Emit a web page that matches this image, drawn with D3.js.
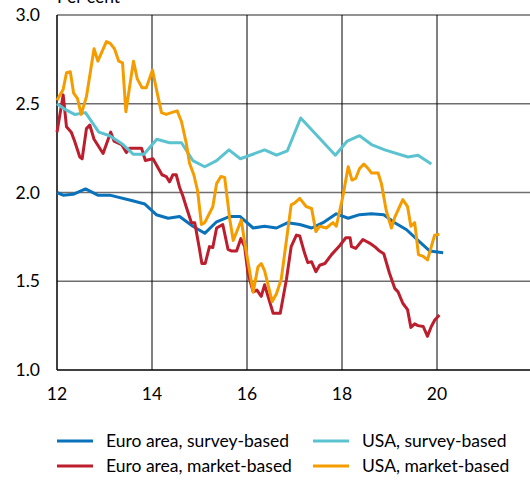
<!DOCTYPE html>
<html>
<head>
<meta charset="utf-8">
<script src="https://cdn.jsdelivr.net/npm/d3@7"></script>
<style>
  body { margin: 0; background: #fff; }
  svg { display: block; font-family: Lato, "Noto Sans", sans-serif; }
</style>
</head>
<body>
<div id="chart"></div>
<script>
// tick labels
var xTicks = [12, 14, 16, 18, 20];
var yTicks = [1.0, 1.5, 2.0, 2.5, 3.0];

// series: [year (2-digit, fractional), per cent]
var euroSurvey = [
  [12.00, 2.00], [12.13, 1.985], [12.34, 1.99], [12.60, 2.02], [12.86, 1.985],
  [13.11, 1.985], [13.57, 1.955], [13.85, 1.935], [14.09, 1.875], [14.34, 1.855],
  [14.58, 1.865], [14.86, 1.81], [15.11, 1.77], [15.36, 1.835], [15.64, 1.865],
  [15.85, 1.865], [16.13, 1.80], [16.37, 1.81], [16.62, 1.80], [16.86, 1.83],
  [17.11, 1.82], [17.36, 1.80], [17.60, 1.83], [17.88, 1.88], [18.13, 1.855],
  [18.37, 1.875], [18.62, 1.88], [18.88, 1.875], [19.11, 1.83], [19.36, 1.79],
  [19.60, 1.73], [19.85, 1.67], [20.13, 1.66]
];
var euroMarket = [
  [12.00, 2.34], [12.13, 2.55], [12.20, 2.37], [12.30, 2.34], [12.37, 2.29],
  [12.48, 2.20], [12.53, 2.19], [12.62, 2.36], [12.69, 2.38], [12.78, 2.30],
  [12.97, 2.22], [13.13, 2.34], [13.20, 2.29], [13.36, 2.27], [13.46, 2.225],
  [13.53, 2.25], [13.78, 2.25], [13.86, 2.18], [14.02, 2.19], [14.21, 2.10],
  [14.30, 2.09], [14.37, 2.06], [14.44, 2.10], [14.51, 2.10], [14.58, 2.03],
  [14.65, 1.98], [14.72, 1.92], [14.83, 1.83], [14.90, 1.83], [15.00, 1.68],
  [15.05, 1.60], [15.12, 1.60], [15.21, 1.695], [15.28, 1.69], [15.36, 1.80],
  [15.49, 1.82], [15.60, 1.68], [15.68, 1.67], [15.78, 1.67], [15.87, 1.74],
  [15.95, 1.695], [16.02, 1.545], [16.13, 1.44], [16.21, 1.45], [16.30, 1.415],
  [16.37, 1.48], [16.55, 1.32], [16.70, 1.32], [16.83, 1.51], [16.93, 1.695],
  [17.04, 1.76], [17.11, 1.755], [17.21, 1.66], [17.28, 1.605], [17.36, 1.61],
  [17.45, 1.554], [17.53, 1.59], [17.64, 1.60], [17.78, 1.65], [17.95, 1.70],
  [18.08, 1.745], [18.17, 1.745], [18.20, 1.695], [18.29, 1.685], [18.44, 1.735],
  [18.58, 1.715], [18.69, 1.695], [18.79, 1.67], [18.88, 1.655], [19.00, 1.545],
  [19.11, 1.46], [19.18, 1.44], [19.28, 1.376], [19.38, 1.34], [19.45, 1.24],
  [19.53, 1.26], [19.60, 1.25], [19.71, 1.245], [19.80, 1.19], [19.88, 1.245],
  [19.95, 1.28], [20.05, 1.31]
];
var usaSurvey = [
  [12.00, 2.50], [12.16, 2.47], [12.37, 2.44], [12.60, 2.45], [12.88, 2.34],
  [13.11, 2.32], [13.39, 2.27], [13.61, 2.215], [13.83, 2.215], [14.10, 2.30],
  [14.37, 2.28], [14.62, 2.28], [14.86, 2.18], [15.11, 2.145], [15.36, 2.18],
  [15.62, 2.24], [15.86, 2.19], [16.37, 2.24], [16.62, 2.21], [16.85, 2.235],
  [17.13, 2.42], [17.86, 2.21], [18.11, 2.29], [18.37, 2.32], [18.62, 2.27],
  [18.90, 2.24], [19.39, 2.20], [19.60, 2.21], [19.88, 2.16]
];
var usaMarket = [
  [12.00, 2.52], [12.13, 2.58], [12.20, 2.675], [12.28, 2.68], [12.35, 2.56],
  [12.43, 2.53], [12.51, 2.44], [12.62, 2.54], [12.78, 2.81], [12.86, 2.74],
  [13.04, 2.85], [13.12, 2.84], [13.21, 2.81], [13.30, 2.74], [13.38, 2.73],
  [13.45, 2.455], [13.61, 2.74], [13.69, 2.64], [13.79, 2.59], [13.88, 2.59],
  [14.01, 2.69], [14.11, 2.56], [14.20, 2.45], [14.30, 2.44], [14.41, 2.45],
  [14.53, 2.46], [14.62, 2.40], [14.72, 2.28], [14.79, 2.165], [14.88, 2.10],
  [14.96, 2.01], [15.04, 1.82], [15.11, 1.83], [15.28, 1.92], [15.36, 2.05],
  [15.45, 2.09], [15.53, 2.085], [15.64, 1.845], [15.71, 1.73], [15.80, 1.79],
  [15.88, 1.845], [15.95, 1.72], [16.13, 1.44], [16.23, 1.58], [16.30, 1.60],
  [16.37, 1.56], [16.53, 1.385], [16.62, 1.43], [16.72, 1.51], [16.93, 1.93],
  [17.00, 1.94], [17.11, 1.967], [17.25, 1.92], [17.36, 1.91], [17.45, 1.78],
  [17.53, 1.81], [17.67, 1.80], [17.81, 1.83], [17.88, 1.81], [18.02, 1.98],
  [18.13, 2.145], [18.21, 2.07], [18.29, 2.08], [18.37, 2.135], [18.46, 2.16],
  [18.55, 2.135], [18.62, 2.11], [18.76, 2.11], [18.83, 2.05], [18.93, 1.90],
  [19.04, 1.80], [19.11, 1.86], [19.28, 1.96], [19.38, 1.92], [19.45, 1.81],
  [19.53, 1.83], [19.61, 1.65], [19.71, 1.64], [19.80, 1.62], [19.95, 1.76],
  [20.05, 1.765]
];

var seriesNames = ["Euro area, survey-based", "Euro area, market-based",
                   "USA, survey-based", "USA, market-based"];
var seriesColors = ["#0a72ba", "#bd1e2d", "#5bc3d0", "#f59d00"];
var seriesData = [euroSurvey, euroMarket, usaSurvey, usaMarket];

var width = 530, height = 481;
var margin = {top: 15, right: -2, bottom: 111, left: 57};
var fontSize = 17.5;

var svg = d3.select("#chart").append("svg")
  .attr("width", width)
  .attr("height", height);

var x = d3.scaleLinear().domain([12, 22]).range([margin.left, width - margin.right]);
var y = d3.scaleLinear().domain([1, 3]).range([height - margin.bottom, margin.top]);

// horizontal grid
svg.append("g")
  .selectAll("line")
  .data(yTicks.slice(1))
  .enter().append("line")
    .attr("x1", x(12)).attr("x2", width)
    .attr("y1", function(d) { return y(d); })
    .attr("y2", function(d) { return y(d); })
    .attr("stroke", "#6e6e6e")
    .attr("stroke-width", 1.5);

// vertical grid
svg.append("g")
  .selectAll("line")
  .data(xTicks.slice(1))
  .enter().append("line")
    .attr("x1", function(d) { return x(d); })
    .attr("x2", function(d) { return x(d); })
    .attr("y1", y(3)).attr("y2", y(1))
    .attr("stroke", "#000")
    .attr("stroke-width", 1);

// axes lines
svg.append("line")
  .attr("x1", x(12)).attr("x2", x(12))
  .attr("y1", y(3)).attr("y2", y(1))
  .attr("stroke", "#000").attr("stroke-width", 1.5);
svg.append("line")
  .attr("x1", x(12)).attr("x2", width)
  .attr("y1", y(1)).attr("y2", y(1))
  .attr("stroke", "#000").attr("stroke-width", 1.5);

// tick labels
svg.append("g")
  .selectAll("text")
  .data(yTicks)
  .enter().append("text")
    .attr("x", 40)
    .attr("y", function(d) { return y(d); })
    .attr("dy", "0.35em")
    .attr("text-anchor", "end")
    .attr("font-size", fontSize)
    .attr("fill", "#000")
    .text(function(d) { return d3.format(".1f")(d); });

svg.append("g")
  .selectAll("text")
  .data(xTicks)
  .enter().append("text")
    .attr("x", function(d) { return x(d); })
    .attr("y", y(1) + 30)
    .attr("text-anchor", "middle")
    .attr("font-size", fontSize)
    .attr("fill", "#000")
    .text(function(d) { return d; });

// unit label, partly above the top edge as in the original
svg.append("text")
  .attr("x", x(12))
  .attr("y", 3)
  .attr("font-size", fontSize)
  .attr("fill", "#000")
  .text("Per cent");

// series lines
var line = d3.line()
  .x(function(d) { return x(d[0]); })
  .y(function(d) { return y(d[1]); });

seriesData.forEach(function(data, i) {
  svg.append("path")
    .datum(data)
    .attr("fill", "none")
    .attr("stroke", seriesColors[i])
    .attr("stroke-width", 3)
    .attr("stroke-linejoin", "round")
    .attr("d", line);
});

// legend (two columns)
var legendPos = [
  {x: 57, y: 441}, {x: 57, y: 466},
  {x: 313, y: 441}, {x: 313, y: 466}
];
var legend = svg.append("g")
  .selectAll("g")
  .data(seriesNames)
  .enter().append("g")
    .attr("transform", function(d, i) {
      return "translate(" + legendPos[i].x + "," + legendPos[i].y + ")";
    });
legend.append("line")
  .attr("x1", 0).attr("x2", 36)
  .attr("stroke", function(d, i) { return seriesColors[i]; })
  .attr("stroke-width", 3);
legend.append("text")
  .attr("x", 49)
  .attr("dy", "0.35em")
  .attr("font-size", fontSize)
  .attr("fill", "#000")
  .text(function(d) { return d; });
</script>
</body>
</html>
